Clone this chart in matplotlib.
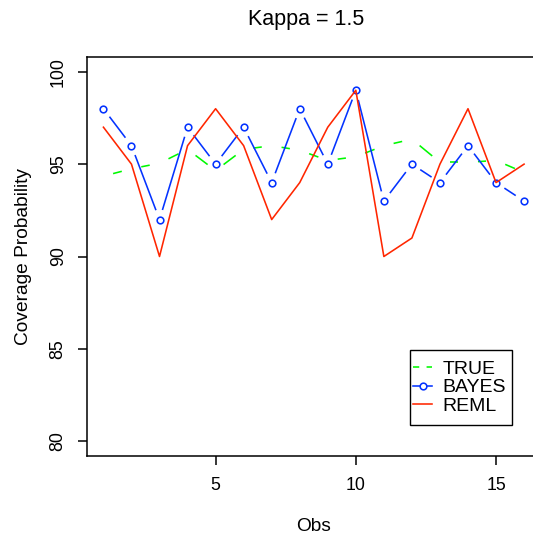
import matplotlib
matplotlib.use("Agg")
import matplotlib.pyplot as plt
import numpy as np
from matplotlib.lines import Line2D
from matplotlib.patches import Rectangle

plt.rcParams["font.family"] = ["Liberation Sans", "DejaVu Sans"]

# values
obs = [1, 2, 3, 4, 5, 6, 7, 8, 9, 10, 11, 12, 13, 14, 15, 16]
true_cp = [94.35, 94.75, 95.05, 95.8, 94.65, 95.8, 96.0, 95.75,
           95.2, 95.4, 96.0, 96.35, 95.1, 95.1, 95.2, 94.55]
bayes_cp = [98, 96, 92, 97, 95, 97, 94, 98, 95, 99, 93, 95, 94, 96, 94, 93]
reml_cp = [97, 95, 90, 96, 98, 96, 92, 94, 97, 99, 90, 91, 95, 98, 94, 95]
x_ticks = [5, 10, 15]
y_ticks = [80, 85, 90, 95, 100]
labels = ["TRUE", "BAYES", "REML"]

GREEN = "#00F900"
BLUE = "#0433FF"
RED = "#FF2600"
LW = 1.15
GAP_PX = 10  # R type="b": line stops short of each point


def gapped_line(ax, x, y, gap_px, **kw):
    """Draw a polyline whose segments stop gap_px short of every vertex."""
    pts = ax.transData.transform(np.column_stack([x, y]))
    inv = ax.transData.inverted()
    for p0, p1 in zip(pts[:-1], pts[1:]):
        d = p1 - p0
        length = np.hypot(*d)
        if length <= 2 * gap_px:
            continue
        u = d / length
        a, b = inv.transform([p0 + u * gap_px, p1 - u * gap_px])
        ax.plot([a[0], b[0]], [a[1], b[1]], **kw)


fig = plt.figure(figsize=(5.33, 5.40), dpi=100)
ax = fig.add_axes([86.6 / 533, 84 / 540, 454.3 / 533, 399 / 540])
ax.set_xlim(0.4, 16.6)
ax.set_ylim(79.2, 100.8)

gapped_line(ax, obs, true_cp, GAP_PX, color=GREEN, lw=LW, solid_capstyle="butt", zorder=2)
gapped_line(ax, obs, bayes_cp, GAP_PX, color=BLUE, lw=LW, solid_capstyle="butt", zorder=3)
ax.plot(obs, bayes_cp, ls="none", marker="o", ms=4.8, mew=1.15,
        mec=BLUE, mfc="white", zorder=3)
ax.plot(obs, reml_cp, color=RED, lw=LW, zorder=4)

for s in ax.spines.values():
    s.set_linewidth(1.1)
ax.set_xticks(x_ticks)
ax.set_yticks(y_ticks)
ax.tick_params(direction="out", length=6.3, width=1.1, labelsize=12.8)
ax.tick_params(axis="x", pad=9)
ax.tick_params(axis="y", pad=8)
plt.setp(ax.get_yticklabels(), rotation=90, va="center")

ax.set_xlabel("Obs", fontsize=13.8, va="center")
ax.xaxis.set_label_coords(0.5, -0.176)
ax.set_ylabel("Coverage Probability", fontsize=13.8, va="center")
ax.yaxis.set_label_coords(-0.138, 0.5)
fig.text(306 / 533, 1 - 19 / 540, "Kappa = 1.5", fontsize=15.5, ha="center", va="center")

handles = [
    Line2D([], [], color=GREEN, lw=LW, ls=(0, (3.9, 4.6))),
    Line2D([], [], color=BLUE, lw=LW, marker="o", ms=4.8, mew=1.15, mfc="white"),
    Line2D([], [], color=RED, lw=LW),
]
leg = ax.legend(handles, labels, loc="upper left", frameon=False,
                bbox_to_anchor=(413 / 533, 1 - 360 / 540), bbox_transform=fig.transFigure,
                borderaxespad=0, borderpad=0, fontsize=14, handlelength=1.0,
                handletextpad=0.5, labelspacing=0.06)

# R-style legend box: taller padding above/below than at the sides
fig.canvas.draw()
bb = leg.get_window_extent()
pad_x, pad_y = 3, 10
fig.patches.append(Rectangle((bb.x0 - pad_x, bb.y0 - pad_y), bb.width + 2 * pad_x + 3,
                             bb.height + 2 * pad_y, transform=None, fill=False,
                             ec="black", lw=1.0, figure=fig))

fig.savefig("out.png", dpi=100)
